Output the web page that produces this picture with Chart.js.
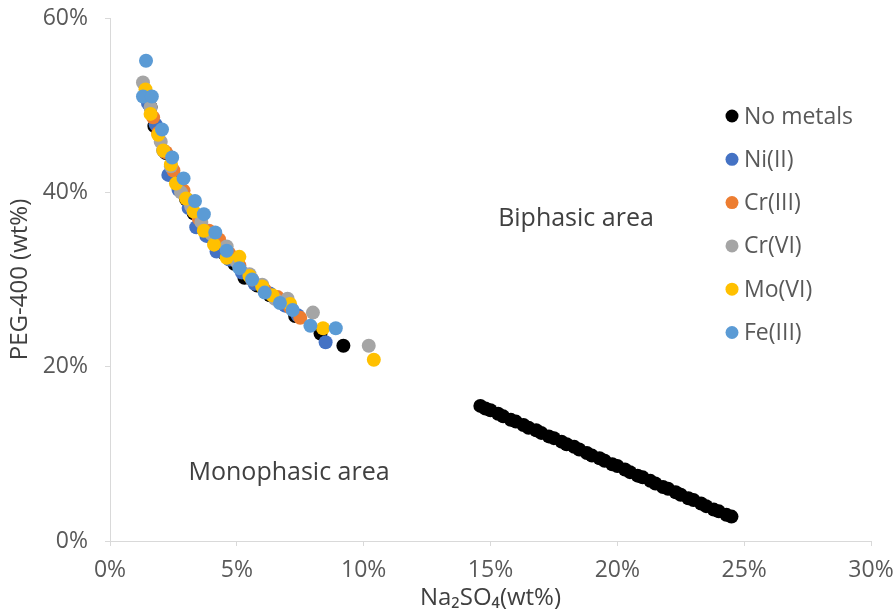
<!DOCTYPE html>
<html>
<head>
<meta charset="utf-8">
<script src="https://cdn.jsdelivr.net/npm/chart.js@4.4.1/dist/chart.umd.min.js"></script>
<style>
  html, body { margin: 0; padding: 0; background: #fff; }
  #wrap { width: 896px; height: 613px; }
</style>
</head>
<body>
<div id="wrap"><canvas id="chart" width="896" height="613"></canvas></div>
<script>
// Phase diagram data (Na2SO4 wt% vs PEG-400 wt%), values in %
const seriesNames = ['No metals', 'Ni(II)', 'Cr(III)', 'Cr(VI)', 'Mo(VI)', 'Fe(III)'];
const seriesColors = ['#000000', '#4472C4', '#ED7D31', '#A5A5A5', '#FFC000', '#5B9BD5'];

// No metals: binodal points + the long lower branch
const noMetalsX = [1.6, 1.75, 2.2, 2.6, 3.0, 3.3, 3.6, 4.1, 4.5, 4.9, 5.3, 5.8, 6.3, 6.9, 7.3, 8.3, 9.2,
  14.6, 14.8, 15.0, 15.3, 15.5, 15.8, 16.0, 16.3, 16.5, 16.8, 17.0, 17.3, 17.5, 17.8, 18.0, 18.3, 18.5, 18.8,
  19.0, 19.3, 19.5, 19.8, 20.0, 20.3, 20.5, 20.8, 21.0, 21.3, 21.5, 21.8, 22.0, 22.3, 22.5, 22.8, 23.0, 23.3,
  23.5, 23.8, 24.0, 24.3, 24.5];
const noMetalsY = [49.8, 47.6, 44.5, 41.6, 39.2, 37.6, 36.0, 34.5, 33.0, 31.8, 30.2, 29.3, 28.2, 27.5, 25.8, 23.8, 22.4,
  15.5, 15.2, 15.0, 14.6, 14.3, 13.9, 13.7, 13.3, 13.0, 12.7, 12.4, 12.0, 11.8, 11.4, 11.1, 10.8, 10.5, 10.1,
  9.8, 9.5, 9.2, 8.8, 8.6, 8.2, 7.9, 7.5, 7.3, 6.9, 6.6, 6.2, 6.0, 5.6, 5.3, 4.9, 4.7, 4.3,
  4.0, 3.6, 3.4, 3.0, 2.8];

const niX = [1.5, 1.8, 2.1, 2.3, 2.7, 3.1, 3.4, 3.8, 4.2, 4.7, 5.2, 5.7, 6.3, 6.9, 7.4, 8.5];
const niY = [50.2, 47.8, 44.8, 42.0, 40.3, 38.2, 36.0, 35.0, 33.2, 32.3, 30.8, 29.5, 28.4, 27.0, 25.9, 22.8];

const cr3X = [1.7, 1.9, 2.2, 2.5, 2.9, 3.2, 3.5, 3.9, 4.3, 4.7, 5.1, 5.6, 6.1, 6.6, 7.1, 7.5];
const cr3Y = [48.6, 46.8, 44.6, 42.5, 40.2, 38.6, 37.0, 35.6, 34.6, 33.0, 31.6, 30.0, 28.8, 28.0, 26.8, 25.6];

const cr6X = [1.3, 1.6, 2.0, 2.4, 2.8, 3.2, 3.6, 4.0, 4.6, 5.0, 5.5, 6.0, 6.5, 7.0, 8.0, 10.2];
const cr6Y = [52.6, 49.8, 45.8, 43.0, 40.0, 38.4, 36.6, 35.2, 33.8, 32.0, 30.6, 29.4, 27.8, 27.8, 26.2, 22.4];

const moX = [1.4, 1.6, 1.9, 2.1, 2.4, 2.6, 3.0, 3.3, 3.7, 4.1, 4.6, 5.1, 5.5, 6.0, 6.4, 7.1, 8.4, 10.4];
const moY = [51.8, 49.0, 46.6, 44.8, 43.2, 41.0, 39.3, 37.8, 35.6, 34.0, 32.5, 32.6, 30.4, 29.2, 28.2, 27.2, 24.4, 20.8];

const feX = [1.42, 1.3, 1.65, 2.05, 2.45, 2.9, 3.35, 3.7, 4.15, 4.6, 5.1, 5.6, 6.1, 6.7, 7.2, 7.9, 8.9];
const feY = [55.1, 51.0, 51.0, 47.2, 44.0, 41.6, 39.0, 37.5, 35.4, 33.3, 31.3, 30.0, 28.5, 27.3, 26.5, 24.7, 24.4];

const xTicks = [0, 5, 10, 15, 20, 25, 30];
const yTicks = [0, 20, 40, 60];

const FONT = '"Open Sans", "Noto Sans", sans-serif';
const TEXT_GREY = '#595959';

function pts(xs, ys) {
  return xs.map((x, i) => ({ x: x, y: ys[i] }));
}

const allX = [noMetalsX, niX, cr3X, cr6X, moX, feX];
const allY = [noMetalsY, niY, cr3Y, cr6Y, moY, feY];

const datasets = seriesNames.map((name, i) => ({
  label: name,
  data: pts(allX[i], allY[i]),
  backgroundColor: seriesColors[i],
  borderColor: seriesColors[i],
  pointRadius: 7,
  pointBorderWidth: 0,
  pointHoverRadius: 7,
  // later series are painted above earlier ones
  order: seriesNames.length - i
}));

// legend drawn by hand, inside the plot like the original
const legendPlugin = {
  id: 'sideLegend',
  afterDatasetsDraw(chart) {
    const ctx = chart.ctx;
    ctx.save();
    ctx.font = '23px ' + FONT;
    ctx.textBaseline = 'middle';
    ctx.textAlign = 'left';
    chart.data.datasets.forEach((ds, i) => {
      const y = 116 + i * 43.3;
      ctx.fillStyle = ds.backgroundColor;
      ctx.beginPath();
      ctx.arc(732, y, 6.5, 0, Math.PI * 2);
      ctx.fill();
      ctx.fillStyle = TEXT_GREY;
      ctx.fillText(ds.label, 744, y + 1);
    });
    ctx.restore();
  }
};

// area labels placed in data coordinates
const areaLabels = [
  { text: 'Biphasic area', x: 18.37, y: 36.9 },
  { text: 'Monophasic area', x: 7.06, y: 7.8 }
];
const areaPlugin = {
  id: 'areaLabels',
  afterDatasetsDraw(chart) {
    const ctx = chart.ctx;
    const xs = chart.scales.x, ys = chart.scales.y;
    ctx.save();
    ctx.font = '25px ' + FONT;
    ctx.fillStyle = '#404040';
    ctx.textAlign = 'center';
    ctx.textBaseline = 'middle';
    areaLabels.forEach(l => ctx.fillText(l.text, xs.getPixelForValue(l.x), ys.getPixelForValue(l.y)));
    ctx.restore();
  }
};

new Chart(document.getElementById('chart'), {
  type: 'scatter',
  data: { datasets },
  options: {
    responsive: false,
    animation: false,
    events: [],
    layout: { padding: { top: 18, right: 25, left: 0, bottom: 0 } },
    plugins: {
      legend: { display: false },
      tooltip: { enabled: false }
    },
    scales: {
      x: {
        type: 'linear',
        min: 0, max: 30,
        afterBuildTicks: s => { s.ticks = xTicks.map(v => ({ value: v })); },
        afterFit: s => { s.height = 72; s.paddingLeft = 0; s.paddingRight = 0; },
        grid: { drawOnChartArea: false, drawTicks: true, tickLength: 5, color: '#d9d9d9' },
        border: { color: '#d9d9d9', width: 1 },
        ticks: {
          color: TEXT_GREY, font: { family: FONT, size: 23 }, padding: 11,
          maxRotation: 0, callback: v => v + '%'
        },
        title: {
          display: true, text: 'Na₂SO₄(wt%)', color: '#404040',
          font: { family: FONT, size: 24 }, padding: { top: 0, bottom: 0 }
        }
      },
      y: {
        type: 'linear',
        min: 0, max: 60,
        afterBuildTicks: s => { s.ticks = yTicks.map(v => ({ value: v })); },
        afterFit: s => { s.width = 110; s.paddingTop = 0; s.paddingBottom = 0; },
        grid: { drawOnChartArea: false, drawTicks: true, tickLength: 5, color: '#d9d9d9' },
        border: { color: '#d9d9d9', width: 1 },
        ticks: {
          color: TEXT_GREY, font: { family: FONT, size: 23 }, padding: 17,
          callback: v => v + '%'
        },
        title: {
          display: true, text: 'PEG-400 (wt%)', color: '#404040',
          font: { family: FONT, size: 24 }, padding: { top: 6, bottom: 0 }
        }
      }
    }
  },
  plugins: [areaPlugin, legendPlugin]
});
</script>
</body>
</html>
